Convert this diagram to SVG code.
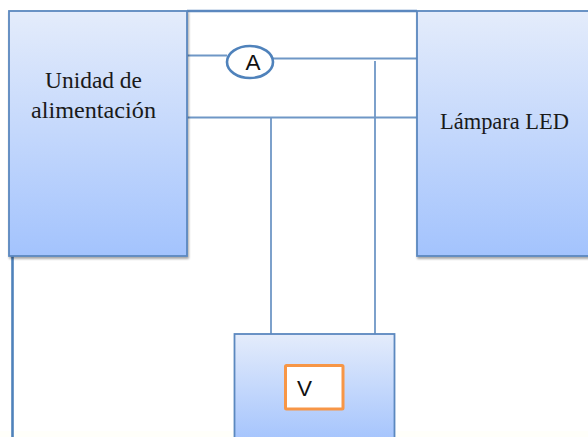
<svg xmlns="http://www.w3.org/2000/svg" width="588" height="437" viewBox="0 0 588 437">
<style>
.box{stroke:#5b88bf;stroke-width:1.8}
.w{fill:none;stroke:#6f97c6;stroke-width:1.8}
.t{font-family:"Liberation Serif",serif;font-size:23.500px;fill:#1a1a1a}
.s{font-family:"Liberation Sans",sans-serif;font-size:22.500px;fill:#111}
</style>
<defs>
<linearGradient id="g" x1="0" y1="0" x2="0" y2="1"><stop offset="0" stop-color="#e4ecfb"/><stop offset="1" stop-color="#a3c3fd"/></linearGradient>
<filter id="sh" x="-5%" y="-5%" width="110%" height="110%"><feDropShadow dx="1" dy="2" stdDeviation="1.2" flood-color="#000" flood-opacity=".35"/></filter>
</defs>
<rect width="588" height="437" fill="#fff"/>
<rect y="431" width="588" height="6" fill="#fffffa"/>
<g id="connectors">
<path class="w" d="M187 11H417" style="stroke:#5b88bf;stroke-width:2.400"/>
<path class="w" d="M187 55.500H227M272 58.500H417M187 117.500H417M271 117.500V334M375 61V334"/>
<path class="w" d="M12.500 256V437" style="stroke:#4f82bb;stroke-width:2.600"/>
</g>
<g id="fuente">
<rect class="box" x="9" y="11" width="178" height="245" fill="url(#g)" filter="url(#sh)"/>
<text class="t" x="45" y="88" textLength="97" lengthAdjust="spacingAndGlyphs">Unidad de</text>
<text class="t" x="31" y="118" textLength="125" lengthAdjust="spacingAndGlyphs">alimentación</text>
</g>
<g id="lampara">
<rect class="box" x="417" y="11" width="180" height="245" fill="url(#g)" filter="url(#sh)"/>
<text class="t" x="440" y="128.500" textLength="129" lengthAdjust="spacingAndGlyphs">Lámpara LED</text>
</g>
<g id="amperimetro">
<ellipse cx="250" cy="62" rx="23" ry="16" fill="#fff" stroke="#4f82bb" stroke-width="2.600"/>
<text class="s" text-anchor="middle" x="253" y="70">A</text>
</g>
<g id="voltimetro">
<rect class="box" x="234.500" y="334" width="160" height="110" fill="url(#g)"/>
<rect x="285.500" y="365.500" width="57.500" height="43.500" rx="1" fill="#fff" stroke="#f79646" stroke-width="3"/>
<text class="s" x="297" y="396">V</text>
</g>
</svg>
